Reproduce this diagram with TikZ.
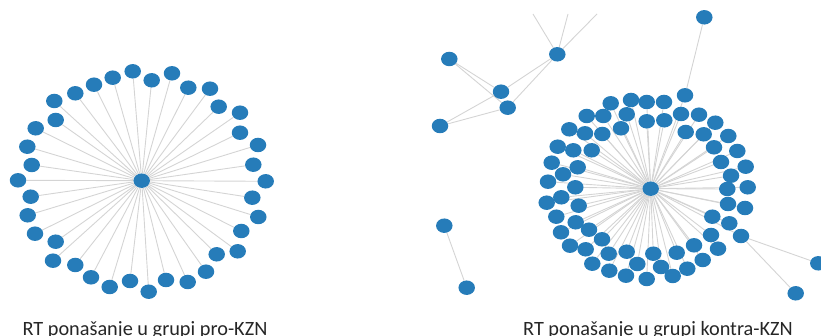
\documentclass[tikz,border=0pt]{standalone}
\usepackage{fontspec}
\setmainfont{Carlito}
\usetikzlibrary{shapes.geometric,backgrounds}
\definecolor{nodeblue}{RGB}{38,124,185}
\definecolor{edgegray}{RGB}{212,212,212}
\begin{document}
\begin{tikzpicture}[x=1pt,y=-1pt,
  dot/.style={ellipse, fill=nodeblue, draw=none, inner sep=0pt, minimum width=16.5pt, minimum height=14.5pt},
  link/.style={draw=edgegray, line width=0.9pt},
  caption/.style={font=\fontsize{20.3}{24}\selectfont, text=black!85, anchor=base, inner sep=0pt}]
\useasboundingbox (0,0) rectangle (821,336);

% ---------- left star (pro-KZN) ----------
\node[dot] (LC) at (141.7,180.7) {};
\foreach \px/\py [count=\i] in {
 132.7/71.3, 151.7/80.3, 172/73.3, 188.3/87.7, 210/88.7, 218.7/106.7,
 240/112.7, 240/132.7, 258/145, 253.3/164.7, 265.7/181.3, 252.3/197.7,
 258.3/217, 241.3/231, 237.7/251.3, 216.7/254.3, 206/271.7, 187.7/282,
 166/280, 148.7/291.7, 130/281, 109.7/287, 91/277.3, 75.3/265,
 53/260.7, 55.7/241.7, 35/233.7, 27.7/215.3, 30.7/196.7, 18/180.3,
 31.7/165, 27.3/146.7, 35.7/128.3, 55.7/120, 54.3/101, 75.3/93.3,
 94/84.7, 112.7/77.7}
  \node[dot] (L\i) at (\px,\py) {};

% ---------- right star (kontra-KZN) ----------
\node[dot] (RC) at (650.7,188.7) {};
\foreach \px/\py [count=\i] in {
 685/95.3, 610.7/103.3, 631/100, 646.7/102, 664/102, 586.7/116,
 603.3/116, 626.7/114.3, 646.7/121.3, 664.3/120.3, 681/114, 699/114.7,
 715.3/122.7, 569.3/129.3, 585/133.3, 602.3/134, 621/128.3, 685.7/132,
 703.7/134.3, 728.3/136, 557.7/146.7, 573.3/150.3, 591.7/150.3, 714/147.3,
 737.3/151, 551.7/162.7, 577.7/167.3, 721/162, 745.7/166.7, 563/174.3,
 731/175.7, 548/181.7, 575.3/187.3, 727.3/189, 747.7/187.3, 546.7/202.7,
 561.3/197.3, 578.7/205.7, 728/204, 745/208, 556.3/216.7, 575.7/222.3,
 712.3/216.7, 729.3/223.3, 561/232.3, 589/229.7, 711/235, 741/236,
 570/245.7, 585.7/249.3, 602/239.3, 694/245.3, 718/248.7, 592.3/263.7,
 608.7/253.7, 626.7/251.7, 653.3/253.7, 676.7/252.7, 702.7/260, 609.3/270.7,
 626/275.7, 637.3/264, 646.7/279, 661/267, 672.7/276, 687.3/268.7}
  \node[dot] (R\i) at (\px,\py) {};

% ---------- small components ----------
\node[dot] (A1) at (449.3,59) {};
\node[dot] (A2) at (501,91.7) {};
\node[dot] (A3) at (507.7,107.7) {};
\node[dot] (A4) at (557.3,54.3) {};
\node[dot] (A5) at (440,126) {};
\coordinate (T1) at (533,14);
\coordinate (T2) at (568,14);
\coordinate (T3) at (597,14);
\node[dot] (B1) at (704.3,17.3) {};
\node[dot] (C1) at (444.3,225.7) {};
\node[dot] (C2) at (466.7,287.7) {};
\node[dot] (D1) at (818.3,263.3) {};
\node[dot] (D2) at (795.7,293.3) {};

% ---------- edges ----------
\begin{scope}[on background layer]
  \foreach \i in {1,...,38} \draw[link] (LC) -- (L\i);
  \foreach \i in {1,...,66} \draw[link] (RC) -- (R\i);
  \foreach \a in {A1,A4,A5} {
    \draw[link] (\a) -- (A2);
    \draw[link] (\a) -- (A3);
  }
  \foreach \t in {T1,T2,T3} \draw[link] (A4) -- (\t);
  \draw[link] (R1) -- (B1);
  \draw[link] (C1) -- (C2);
  \draw[link] (R48) -- (D1);
  \draw[link] (R48) -- (D2);
\end{scope}

% ---------- captions ----------
\node[caption] (capL) at (145,335.5) {RT ponašanje u grupi pro-KZN};
\node[caption] (capR) at (658,335.5) {RT ponašanje u grupi kontra-KZN};
\end{tikzpicture}
\end{document}
